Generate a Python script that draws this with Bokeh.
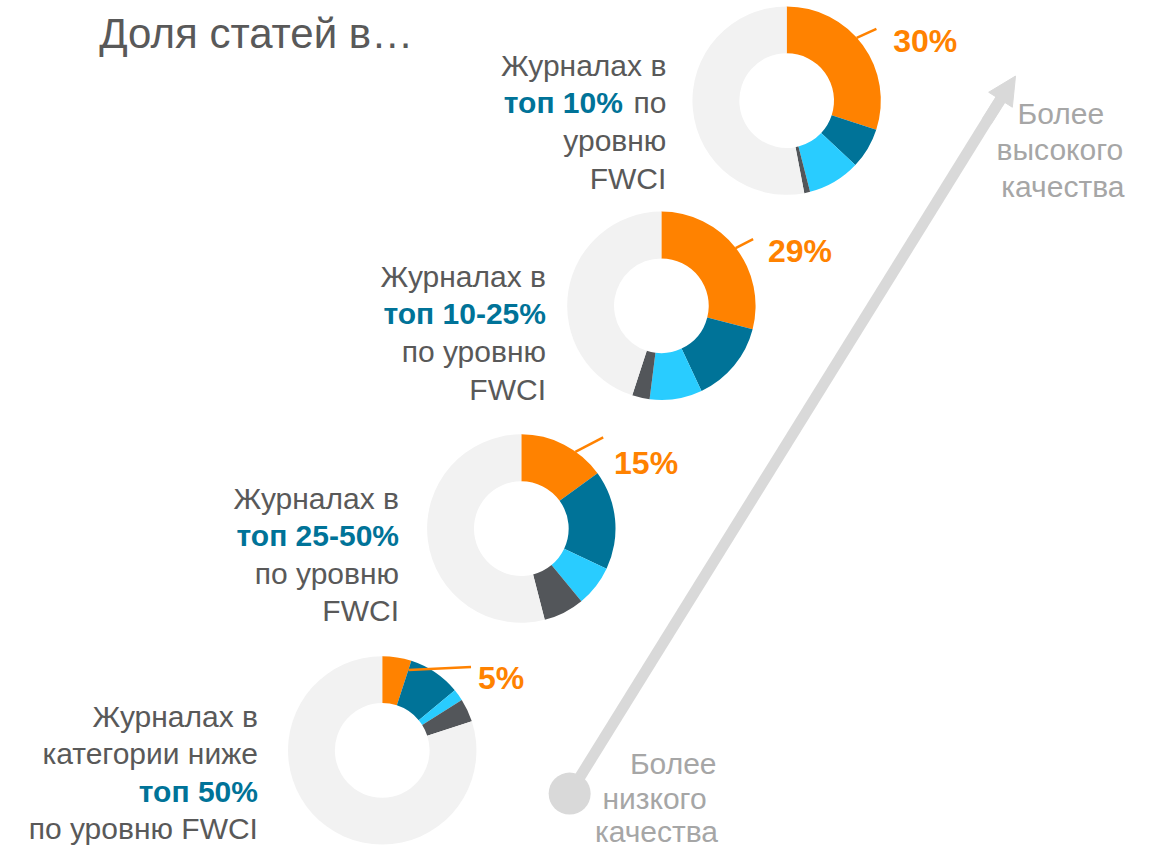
import math
from bokeh.plotting import figure
from bokeh.models import ColumnDataSource, Range1d, Arrow, NormalHead
from bokeh.core.properties import value
from bokeh.embed import file_html
from bokeh.resources import INLINE

# ---- data (percent of articles) ----
groups = ["топ 10%", "топ 10-25%", "топ 25-50%", "ниже топ 50%"]
share_orange = [30, 29, 15, 5]
share_teal = [7, 14, 17, 9]
share_lightblue = [9, 9, 7, 2]
share_darkgray = [1, 3, 7, 4]
pct_labels = ["30%", "29%", "15%", "5%"]

COLORS = ["#FF8200", "#007398", "#29CCFF", "#53565A", "#F2F2F2"]
TEXT = "#595959"
LIGHT = "#A6A6A6"
FONT = value("Liberation Sans")

W, H = 1160, 851
RW, RH = 1176, 867  # layout frame (reference pixels)


def Y(sy):
    return RH - sy


p = figure(width=W, height=H, x_range=Range1d(0, RW), y_range=Range1d(0, RH),
           output_backend="svg", toolbar_location=None, x_axis_type=None, y_axis_type=None,
           min_border=0, outline_line_color=None, background_fill_color="white",
           border_fill_color="white")
p.grid.visible = False

# layout: donut centres
centers = [(797, 102), (670, 311), (528, 538), (387, 764)]
R_OUT, R_IN = 95.5, 48

xs, ys, starts, ends, cols = [], [], [], [], []
for i, (cx, cy) in enumerate(centers):
    vals = [share_orange[i], share_teal[i], share_lightblue[i], share_darkgray[i]]
    vals.append(100 - sum(vals))
    cum = 0
    for v, c in zip(vals, COLORS):
        a0 = math.pi / 2 - 2 * math.pi * cum / 100
        a1 = math.pi / 2 - 2 * math.pi * (cum + v) / 100
        xs.append(cx); ys.append(Y(cy)); starts.append(a0); ends.append(a1); cols.append(c)
        cum += v

src = ColumnDataSource(dict(x=xs, y=ys, start=starts, end=ends, color=cols))
p.annular_wedge(x="x", y="y", inner_radius=R_IN, outer_radius=R_OUT,
                start_angle="start", end_angle="end", direction="clock",
                fill_color="color", line_color=None, source=src)

# arrow
p.line(x=[577, 1016], y=[Y(808), Y(97)], line_color="#D9D9D9", line_width=11)
p.add_layout(Arrow(end=NormalHead(size=28, fill_color="#D9D9D9", line_color="#D9D9D9"),
                   x_start=1000, y_start=Y(123), x_end=1029, y_end=Y(77),
                   line_color="#D9D9D9", line_width=11))
p.scatter(x=[577], y=[Y(808)], size=42, fill_color="#D9D9D9", line_color=None)

# percentage labels and leader lines
lab_pos = [(905, 41), (778, 255), (622, 471), (484, 690)]
lead_end = [(888, 29), (763, 243), (611, 445), (477, 679)]
lead_ang = [48, 52, 35, 18]
for i, (cx, cy) in enumerate(centers):
    a = math.radians(lead_ang[i])
    rr = R_OUT if i < 3 else 86
    sx, sy = cx + rr * math.sin(a), cy - rr * math.cos(a)
    ex, ey = lead_end[i]
    p.line(x=[sx, ex], y=[Y(sy), Y(ey)], line_color=COLORS[0], line_width=2.5)
    lx, ly = lab_pos[i]
    p.text(x=[lx], y=[Y(ly)], text=[pct_labels[i]], text_font=FONT, text_font_size="32px",
           text_font_style="bold", text_color=COLORS[0], text_align="left",
           text_baseline="alphabetic")

# left descriptive labels: (text, bold?) per line
label_lines = [
    [[("Журналах в", False)], [("топ 10%", True), (" по", False)], [("уровню", False)], [("FWCI", False)]],
    [[("Журналах в", False)], [("топ 10-25%", True)], [("по уровню", False)], [("FWCI", False)]],
    [[("Журналах в", False)], [("топ 25-50%", True)], [("по уровню", False)], [("FWCI", False)]],
    [[("Журналах в", False)], [("категории ниже", False)], [("топ 50%", True)], [("по уровню FWCI", False)]],
]
right_edges = [675, 553, 404, 261]
first_base = [66, 281, 507, 729]
LS = 38.3
for i, lines in enumerate(label_lines):
    for j, parts in enumerate(lines):
        by = first_base[i] + j * LS
        xr = right_edges[i]
        if len(parts) == 2:
            p.text(x=[xr], y=[Y(by)], text=["по"], text_font=FONT, text_font_size="30px",
                   text_color=TEXT, text_align="right", text_baseline="alphabetic")
            p.text(x=[xr - 44], y=[Y(by)], text=[parts[0][0]], text_font=FONT,
                   text_font_size="30px", text_font_style="bold", text_color="#007398",
                   text_align="right", text_baseline="alphabetic")
        else:
            t, b = parts[0]
            p.text(x=[xr], y=[Y(by)], text=[t], text_font=FONT, text_font_size="30px",
                   text_font_style="bold" if b else "normal",
                   text_color="#007398" if b else TEXT,
                   text_align="right", text_baseline="alphabetic")

# quality labels
for t, x, by in [("Более", 1075, 115), ("высокого", 1074, 152), ("качества", 1077, 189),
                 ("Более", 682, 777), ("низкого", 663, 813), ("качества", 665, 847)]:
    p.text(x=[x], y=[Y(by)], text=[t], text_font=FONT, text_font_size="30px",
           text_color=LIGHT, text_align="center", text_baseline="alphabetic")

# title
p.text(x=[100], y=[Y(34)], text=["Доля статей в…"], text_font=FONT, text_font_size="42px",
       text_color=TEXT, text_align="left", text_baseline="alphabetic")

open("out.html", "w").write(file_html(p, INLINE))
